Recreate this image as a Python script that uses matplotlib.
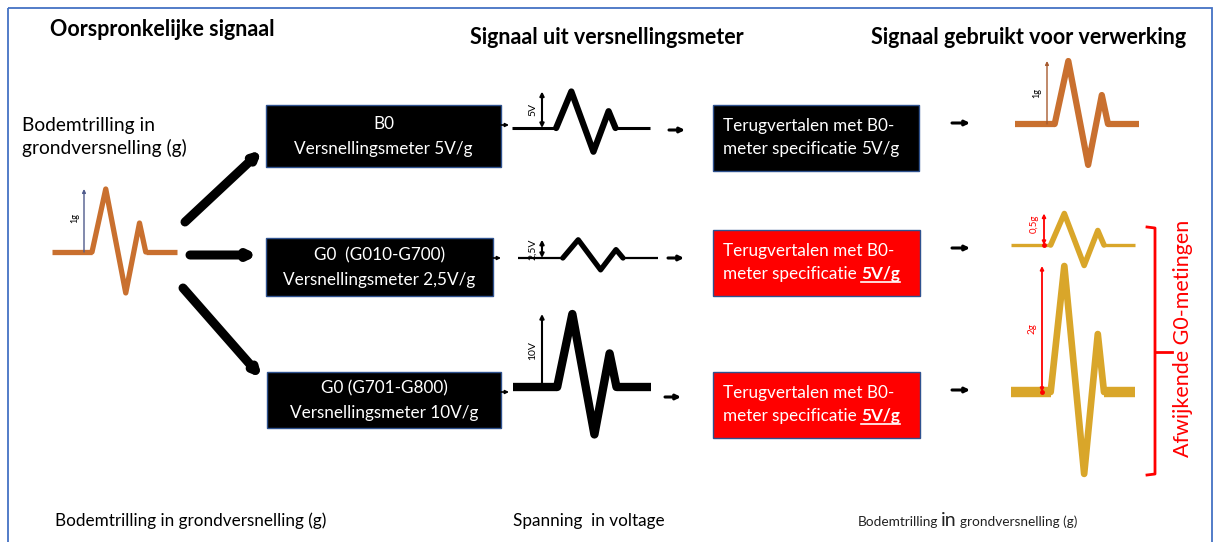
import matplotlib
matplotlib.use("Agg")
import matplotlib.pyplot as plt
from matplotlib.patches import Rectangle

plt.rcParams["font.family"] = ["Lato", "DejaVu Sans"]

# --- data -------------------------------------------------------------------
# pulse shape: fraction of pulse width, fraction of the peak amplitude
SHAPE_T = [0.0, 0.32, 0.43, 0.59, 0.70, 0.75, 1.0]
SHAPE_A = [0.0, 0.0, 1.0, -0.65, 0.46, 0.0, 0.0]

INPUT_G = 1.0                                   # original ground acceleration
METERS = ["B0", "G0  (G010-G700)", "G0 (G701-G800)"]
SENS_V_PER_G = [5.0, 2.5, 10.0]                 # meter sensitivity
SENS_LABELS = ["5V/g", "2,5V/g", "10V/g"]
VOLT_LABELS = ["5V", "2,5V", "10V"]
B0_SENS = 5.0                                   # used when translating back
OUT_LABELS = ["1g", "0,5g", "2g"]
RED_ROWS = [False, True, True]

volts = [INPUT_G * s for s in SENS_V_PER_G]
out_g = [v / B0_SENS for v in volts]

PX_PER_G = 63.0
PX_PER_V = 7.3
ORANGE = "#C9702F"
GOLD = "#D9A62A"
RED = "#FF0000"
EDGE = "#2F528F"
FS_BOX = 12.3

fig = plt.figure(figsize=(12.15, 5.42), dpi=100)
ax = fig.add_axes([0, 0, 1, 1])
ax.set_xlim(0, 1215)
ax.set_ylim(542, 0)
ax.axis("off")
R = fig.canvas.get_renderer()


def pulse(x0, x1, y0, amp, color, lw_base, lw_pulse):
    xs = [x0 + t * (x1 - x0) for t in SHAPE_T]
    ys = [y0 - a * amp for a in SHAPE_A]
    ax.plot(xs[:2], ys[:2], color=color, lw=lw_base, solid_capstyle="butt")
    ax.plot(xs[-2:], ys[-2:], color=color, lw=lw_base, solid_capstyle="butt")
    ax.plot(xs[1:-1], ys[1:-1], color=color, lw=lw_pulse,
            solid_joinstyle="round", solid_capstyle="round")


def arrow(p0, p1, style="-|>", lw=1.2, ms=8, color="k", shrink=0):
    ax.annotate("", xy=p1, xytext=p0,
                arrowprops=dict(arrowstyle=style, lw=lw, color=color, mutation_scale=ms,
                                shrinkA=shrink, shrinkB=shrink))


def box(x0, y0, x1, y1, fc):
    ax.add_patch(Rectangle((x0, y0), x1 - x0, y1 - y0, fc=fc, ec=EDGE, lw=1.0))


# border
ax.add_patch(Rectangle((8, 8), 1204, 600, fill=False, ec="#4472C4", lw=1.3))

# titles
ax.text(50, 30, "Oorspronkelijke signaal", fontsize=15.5, weight="bold", va="center")
ax.text(470, 38, "Signaal uit versnellingsmeter", fontsize=15.5, weight="bold", va="center")
ax.text(871, 38, "Signaal gebruikt voor verwerking", fontsize=15.5, weight="bold",
        va="center")
ax.text(22, 137, "Bodemtrilling in\ngrondversnelling (g)", fontsize=13.8, va="center",
        linespacing=1.3)

# original signal
amp0 = INPUT_G * PX_PER_G
pulse(52, 177, 252, amp0, ORANGE, 3.8, 3.8)
arrow((84, 252), (84, 252 - amp0), lw=1.0, ms=5, color="#4F5B8C")
ax.text(75, 218, "1g", fontsize=6.5, rotation=90, ha="center", va="center")

# fan-out arrows
arrow((185, 222), (262, 150), lw=6.5, ms=9)
arrow((190, 255), (258, 255), lw=6.5, ms=9)
arrow((183, 288), (262, 378), lw=6.5, ms=9)

# meter boxes
meter_boxes = [(266, 105, 501, 167), (266, 238, 493, 296), (267, 372, 501, 428)]
for (x0, y0, x1, y1), name, lab in zip(meter_boxes, METERS, SENS_LABELS):
    box(x0, y0, x1, y1, "black")
    cx, cy = (x0 + x1) / 2, (y0 + y1) / 2
    ax.text(cx, cy - 12, name, color="white", fontsize=FS_BOX, ha="center", va="center")
    ax.text(cx, cy + 13, "Versnellingsmeter " + lab, color="white", fontsize=FS_BOX,
            ha="center", va="center")
    arrow((x1, y0 + 20), (x1 + 8, y0 + 20), lw=1.2, ms=5)

# voltage signals
volt_geo = [(512, 650, 128, 2.2, 4.5), (518, 658, 258, 1.6, 3.8), (513, 651, 387, 6.0, 6.0)]
volt_styles = ["<|-|>", "<|-|>", "-|>"]
for (x0, x1, y0, lb, lp), v, lab, st in zip(volt_geo, volts, VOLT_LABELS, volt_styles):
    amp = v * PX_PER_V
    pulse(x0, x1, y0, amp, "black", lb, lp)
    arrow((542, y0), (542, y0 - amp), style=st, lw=1.5, ms=6)
    ax.text(533, y0 - amp / 2, lab, fontsize=7.5, rotation=90, ha="center", va="center")

for y, x0 in [(130, 669), (258, 668), (397, 665)]:
    arrow((x0, y), (x0 + 16, y), lw=2.2, ms=7)

# translation boxes
tr_boxes = [(713, 105, 919, 171), (713, 230, 920, 296), (713, 372, 920, 438)]
for (x0, y0, x1, y1), red in zip(tr_boxes, RED_ROWS):
    box(x0, y0, x1, y1, RED if red else "black")
    cy = (y0 + y1) / 2
    tx = x0 + 10
    ax.text(tx, cy - 7, "Terugvertalen met B0-", color="white", fontsize=FS_BOX,
            va="baseline")
    t = ax.text(tx, cy + 16, "meter specificatie", color="white", fontsize=FS_BOX,
                va="baseline")
    w = t.get_window_extent(R).width
    t2 = ax.text(tx + w + 4, cy + 16, "5V/g", color="white", fontsize=FS_BOX,
                 va="baseline", weight="bold" if red else "normal")
    if red:
        bb = t2.get_window_extent(R)
        ax.plot([bb.x0, bb.x1], [cy + 19, cy + 19], color="white", lw=1.2)
    arrow((952, y0 + 18), (970, y0 + 18), lw=2.2, ms=7)

# signals used for processing
out_geo = [(1015, 1139, 124, 4.5, 4.5), (1011, 1135, 245, 2.4, 4.0),
           (1011, 1135, 392, 7.5, 4.8)]
out_colors = [ORANGE, GOLD, GOLD]
arr_x = [1047, 1044, 1042]
for (x0, x1, y0, lb, lp), g, lab, c, ax_x, red in zip(out_geo, out_g, OUT_LABELS,
                                                       out_colors, arr_x, RED_ROWS):
    amp = g * PX_PER_G
    pulse(x0, x1, y0, amp, c, lb, lp)
    if red:
        arrow((ax_x, y0), (ax_x, y0 - amp), style="<|-|>", lw=1.3, ms=5, color=RED)
        ax.plot([ax_x], [y0], "o", color=RED, ms=2.5)
        ax.text(ax_x - 10, y0 - amp / 2 + (0 if g > 1 else -5), lab, fontsize=7,
                rotation=90, ha="center", va="center", color=RED)
    else:
        arrow((ax_x, y0), (ax_x, y0 - amp), lw=1.0, ms=5, color="#A65A2E")
        ax.text(ax_x - 10, y0 - amp / 2, lab, fontsize=6.5, rotation=90,
                ha="center", va="center")

# bracket for deviating G0 measurements
ax.plot([1147, 1155, 1155, 1147], [227, 228, 474, 475], color=RED, lw=2.0,
        solid_joinstyle="round")
ax.plot([1155, 1172], [352, 352], color=RED, lw=2.0)
ax.text(1183, 338, "Afwijkende G0-metingen", color=RED, fontsize=15.5, rotation=90,
        ha="center", va="center")

# bottom captions
ax.text(55, 521, "Bodemtrilling in grondversnelling (g)", fontsize=12.3, va="center")
ax.text(513, 521, "Spanning  in voltage", fontsize=12.3, va="center")
x = 858.0
for s, fs in [("Bodemtrilling", 9.8), ("in", 14), ("grondversnelling (g)", 9.8)]:
    t = ax.text(x, 526, s, fontsize=fs, va="baseline", color="#222222")
    x += t.get_window_extent(R).width + 3

fig.savefig("out.png", dpi=100)
